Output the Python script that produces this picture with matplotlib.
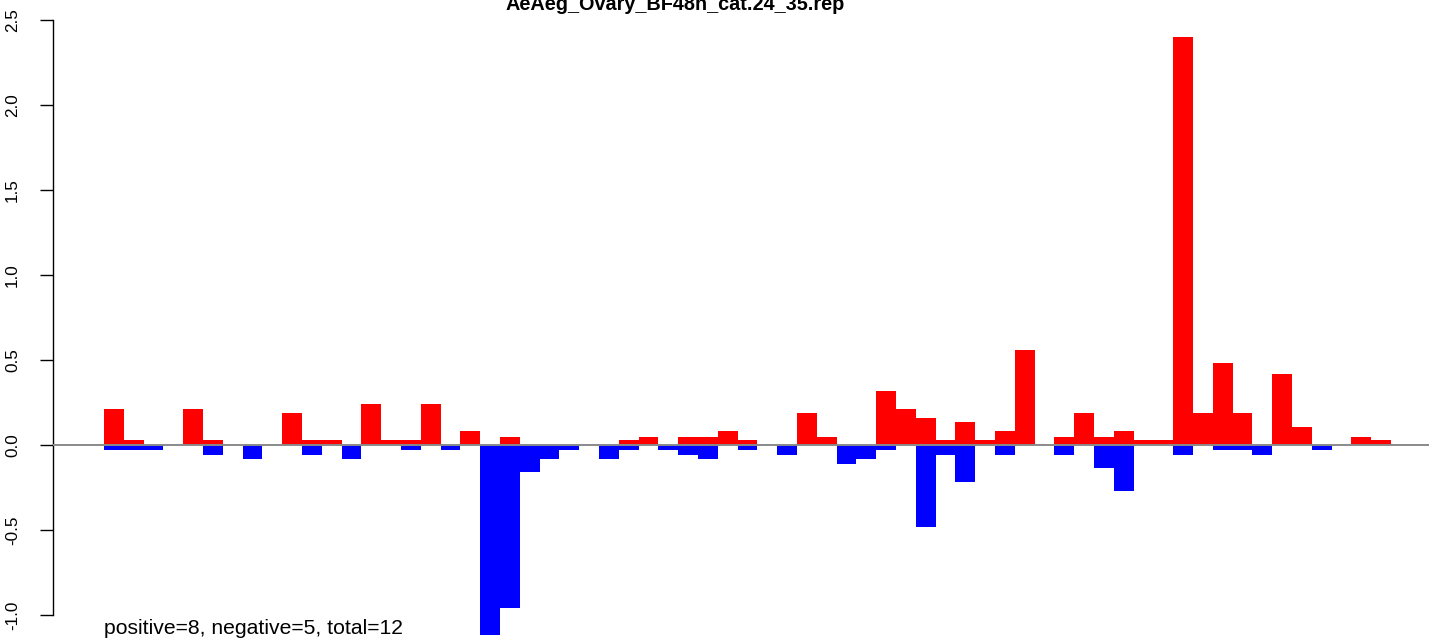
import matplotlib
matplotlib.use("Agg")
import matplotlib.pyplot as plt
import numpy as np

plt.rcParams['font.family'] = ['Liberation Sans', 'DejaVu Sans']

title = "AeAeg_Ovary_BF48h_cat.24_35.rep"
summary = "positive=8, negative=5, total=12"

pos_values = [0.21, 0.03, 0, 0, 0.21, 0.03, 0, 0, 0, 0.19,
              0.03, 0.03, 0, 0.24, 0.03, 0.03, 0.24, 0, 0.08, 0,
              0.05, 0, 0, 0, 0, 0, 0.03, 0.05, 0, 0.05,
              0.05, 0.08, 0.03, 0, 0, 0.19, 0.05, 0, 0, 0.32,
              0.21, 0.16, 0.03, 0.135, 0.03, 0.08, 0.56, 0, 0.05, 0.19,
              0.05, 0.08, 0.03, 0.03, 2.4, 0.19, 0.48, 0.19, 0, 0.42,
              0.105, 0, 0, 0.05, 0.03]
neg_values = [-0.03, -0.03, -0.03, 0, 0, -0.06, 0, -0.08, 0, 0,
              -0.06, 0, -0.08, 0, 0, -0.03, 0, -0.03, 0, -1.12,
              -0.96, -0.16, -0.08, -0.03, 0, -0.08, -0.03, 0, -0.03, -0.06,
              -0.08, 0, -0.03, 0, -0.06, 0, 0, -0.11, -0.08, -0.03,
              0, -0.48, -0.06, -0.22, 0, -0.06, 0, 0, -0.06, 0,
              -0.135, -0.27, 0, 0, -0.06, 0, -0.03, -0.03, -0.06, 0,
              0, -0.03, 0, 0, 0]
yticks = [-1.0, -0.5, 0.0, 0.5, 1.0, 1.5, 2.0, 2.5]

W, H = 1429, 641
fig = plt.figure(figsize=(W / 100, H / 100), dpi=100)

n = len(pos_values)
ext = 0.04 * n
px_per_unit_x = 19.8
axis_px = 52.5
total_units = n + 2 * ext
ax_w_px = total_units * px_per_unit_x
y0_px = 445.0
px_per_unit_y = 170.0
ymax = y0_px / px_per_unit_y
ymin = -(H - y0_px) / px_per_unit_y

ax = fig.add_axes([axis_px / W, 0, ax_w_px / W, 1])
ax.set_xlim(-ext, n + ext)
ax.set_ylim(ymin, ymax)

x = np.arange(n)
ax.bar(x, pos_values, width=1, align='edge', color='#FF0000', linewidth=0, zorder=2)
ax.bar(x, neg_values, width=1, align='edge', color='#0000FF', linewidth=0, zorder=2)
ax.axhline(0, color='#8a8a8a', linewidth=1.4, zorder=3)

for s in ['top', 'right', 'bottom']:
    ax.spines[s].set_visible(False)
ax.spines['left'].set_bounds(-1.0, 2.5)
ax.spines['left'].set_linewidth(1.0)
ax.set_xticks([])
ax.set_yticks(yticks)
ax.set_yticklabels([f"{v:.1f}" for v in yticks],
                   rotation=90, va='center', fontsize=12.3)
ax.tick_params(axis='y', length=9.4, width=1.0, pad=14.0)
ax.patch.set_alpha(0)

fig.text(675 / W, 1 - 10 / H, title, ha='center', va='baseline',
         fontsize=14.3, fontweight='bold')
fig.text(104 / W, 1 - 634 / H, summary, ha='left', va='baseline', fontsize=15.2)

fig.savefig("out.png", dpi=100)
